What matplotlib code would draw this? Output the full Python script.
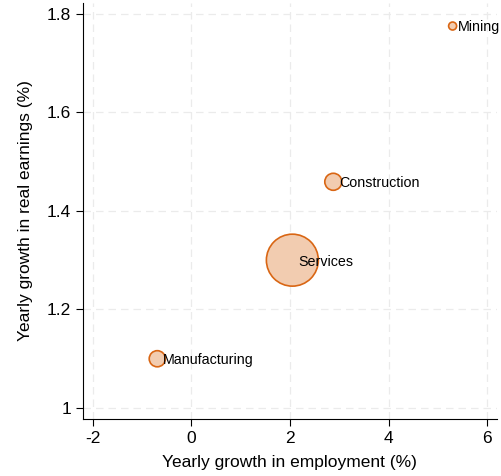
import matplotlib
matplotlib.use("Agg")
import matplotlib.pyplot as plt

plt.rcParams['font.family'] = ['Liberation Sans', 'DejaVu Sans']
plt.rcParams['axes.unicode_minus'] = False

sectors = ['Mining', 'Construction', 'Services', 'Manufacturing']
emp_growth = [5.3, 2.88, 2.05, -0.69]
earn_growth = [1.775, 1.459, 1.30, 1.10]
weights = [33, 150, 1400, 135]

fig = plt.figure(figsize=(5.02, 4.76), dpi=100)
ax = fig.add_axes([0.165, 0.12, 0.825, 0.874])

ax.scatter(emp_growth, earn_growth, s=weights, facecolor=(0.95, 0.80, 0.69),
           edgecolor=(0.85, 0.40, 0.08), linewidth=1.2, zorder=3)
for name, x, y in zip(sectors, emp_growth, earn_growth):
    ax.annotate(name, (x, y), xytext=(4, -1), textcoords='offset points',
                ha='left', va='center', fontsize=10.3, zorder=4,
                annotation_clip=False)

ax.set_xlim(-2.2, 6.2)
ax.set_ylim(0.978, 1.822)
ax.set_xticks([-2, 0, 2, 4, 6])
ax.set_yticks([1, 1.2, 1.4, 1.6, 1.8])
ax.set_yticklabels(['1', '1.2', '1.4', '1.6', '1.8'])
ax.grid(True, linestyle=(0, (6, 4)), color='#ebebeb', linewidth=0.9, zorder=0)
ax.set_axisbelow(True)
ax.spines['top'].set_visible(False)
ax.spines['right'].set_visible(False)
ax.tick_params(direction='out', length=5, labelsize=12.5)
ax.set_xlabel('Yearly growth in employment (%)', fontsize=12.5, labelpad=7)
ax.set_ylabel('Yearly growth in real earnings (%)', fontsize=12.5, labelpad=10)

fig.savefig('out.png', dpi=100)
